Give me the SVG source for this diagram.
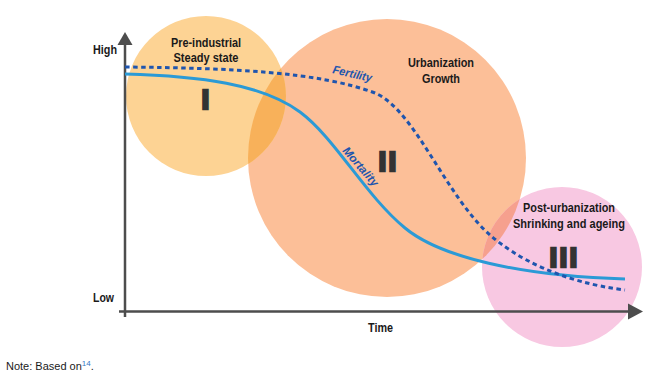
<svg xmlns="http://www.w3.org/2000/svg" width="650" height="383" viewBox="0 0 650 383">
<style>
.lbl{font-family:"Liberation Sans",Arial,sans-serif;font-weight:bold;font-size:12.5px;fill:#1a1a1a;text-anchor:middle}
.ax{font-family:"Liberation Sans",Arial,sans-serif;font-weight:bold;font-size:12px;fill:#1a1a1a;text-anchor:middle}
.num{font-family:"Liberation Sans",Arial,sans-serif;font-weight:bold;font-size:28px;fill:#333;stroke:#333;stroke-width:2.5px}
.curve{fill:none;stroke-width:3}
.cl{font-family:"Liberation Sans",Arial,sans-serif;font-weight:bold;font-style:italic;font-size:11.5px;fill:#1f55ae}
.axis{stroke:#4d4d4d;stroke-width:2.5;fill:none}
</style>
<defs>
<clipPath id="c1"><circle cx="206" cy="96" r="80"/></clipPath>
<clipPath id="c2"><circle cx="387" cy="158" r="139"/></clipPath>
</defs>
<g id="circles">
<circle id="circle-2" cx="387" cy="158" r="139" fill="#fcbf98"/>
<circle id="circle-1" cx="206" cy="96" r="80" fill="#fdd394"/>
<circle id="circle-3" cx="562" cy="267" r="80" fill="#f8c8e2"/>
<circle cx="206" cy="96" r="80" fill="#f8b15a" clip-path="url(#c2)"/>
<circle cx="562" cy="267" r="80" fill="#f6a08e" clip-path="url(#c2)"/>
</g>
<g id="phase-1">
<text class="lbl" x="206" y="46.5" textLength="70" lengthAdjust="spacingAndGlyphs">Pre-industrial</text>
<text class="lbl" x="206" y="62" textLength="65" lengthAdjust="spacingAndGlyphs">Steady state</text>
<text class="num" x="201.5" y="108.8">I</text>
</g>
<g id="phase-2">
<text class="lbl" x="441" y="66.5" textLength="66" lengthAdjust="spacingAndGlyphs">Urbanization</text>
<text class="lbl" x="441" y="82.5" textLength="38" lengthAdjust="spacingAndGlyphs">Growth</text>
<text class="num" x="378.5" y="170.8" letter-spacing="2.2">II</text>
</g>
<g id="phase-3">
<text class="lbl" x="569" y="211.5" textLength="92" lengthAdjust="spacingAndGlyphs">Post-urbanization</text>
<text class="lbl" x="569" y="227.5" textLength="112" lengthAdjust="spacingAndGlyphs">Shrinking and ageing</text>
<text class="num" x="549.5" y="266.8" letter-spacing="2.2">III</text>
</g>
<g id="axes">
<line class="axis" x1="125" y1="42" x2="125" y2="317"/>
<line class="axis" x1="119" y1="311.5" x2="632" y2="311.5"/>
<polygon points="125,32 132.5,45 117.5,45" fill="#4d4d4d"/>
<polygon points="643,311.5 628,303.5 628,319.5" fill="#4d4d4d"/>
<text class="ax" x="105" y="54" textLength="24" lengthAdjust="spacingAndGlyphs">High</text>
<text class="ax" x="103.5" y="302" textLength="21" lengthAdjust="spacingAndGlyphs">Low</text>
<text class="ax" x="380.5" y="332" textLength="25" lengthAdjust="spacingAndGlyphs">Time</text>
</g>
<g id="connectors">
<path id="mortality" class="curve" stroke="#2b9ad6" d="M125,74 C200,76 262,84 300,112 C335,138 365,195 405,228 C440,257 520,276 625,279"/>
<path id="fertility" class="curve" stroke="#1f55ae" stroke-dasharray="4.5 3.5" d="M125,67 C230,68 320,72 375,93 C415,110 445,195 490,235 C515,257 560,282 625,290"/>
<text class="cl" transform="translate(332,73) rotate(13)" textLength="40" lengthAdjust="spacingAndGlyphs">Fertility</text>
<text class="cl" transform="translate(342,151) rotate(49)" textLength="48" lengthAdjust="spacingAndGlyphs">Mortality</text>
</g>
<g id="note">
<text x="6" y="370" font-family="'Liberation Sans',Arial,sans-serif" font-size="11" fill="#1a1a1a">Note: Based on<tspan font-size="8" dy="-4" fill="#3a78c4">14</tspan><tspan dy="4">.</tspan></text>
</g>
</svg>
